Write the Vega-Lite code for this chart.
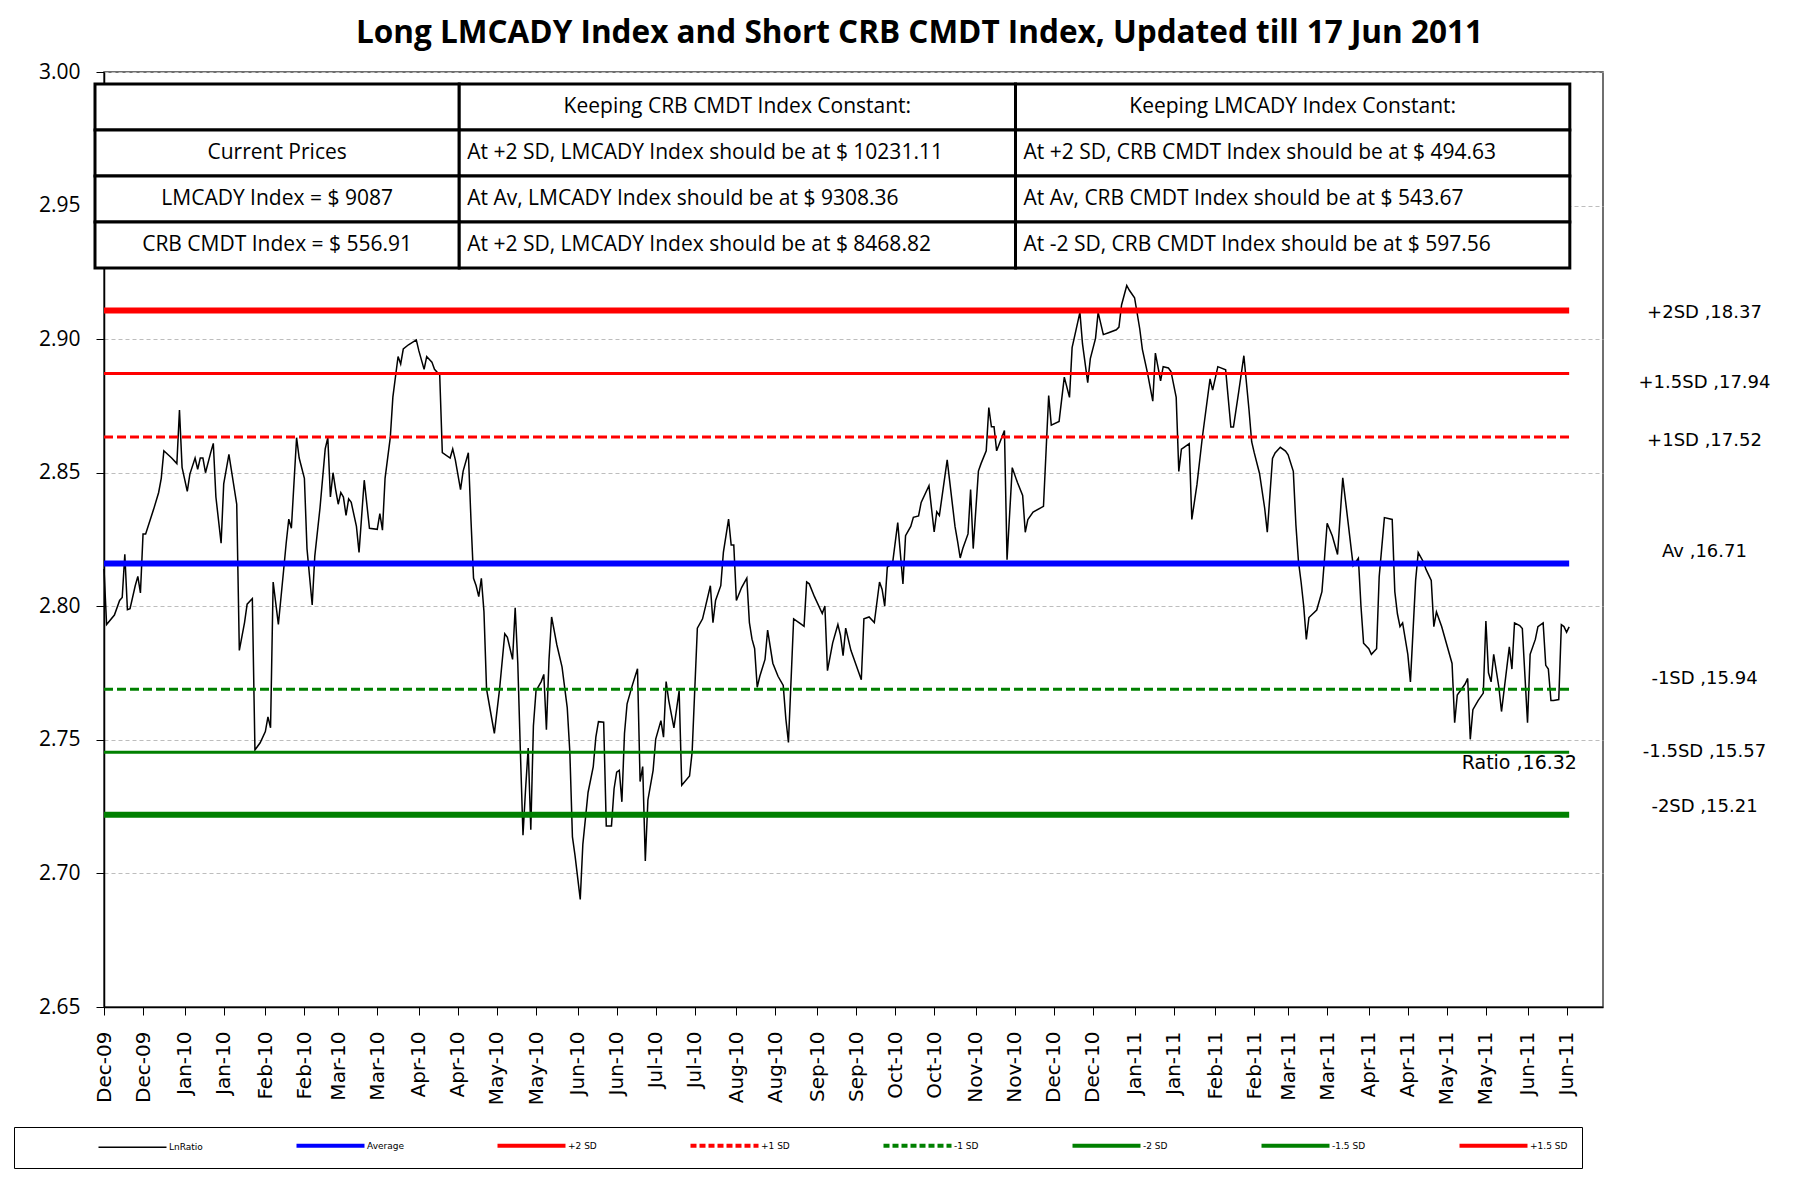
{
  "$schema": "https://vega.github.io/schema/vega-lite/v6.json",
  "width": 1499,
  "height": 935,
  "autosize": {"type": "none"},
  "padding": {"left": 104, "top": 72, "right": 210, "bottom": 170},
  "background": "white",
  "title": {
    "text": "Long LMCADY Index and Short CRB CMDT Index, Updated till 17 Jun 2011",
    "font": "Open Sans", "fontSize": 31.5, "fontWeight": "bold", "color": "#000",
    "frame": "group", "anchor": "middle", "dx": 66, "offset": 12
  },
  "config": {
    "view": {"stroke": "#404040", "strokeWidth": 1.5},
    "axis": {"domainColor": "#000", "tickColor": "#000", "labelColor": "#000"}
  },
  "datasets": {
    "ratio": [
      {"date":"2009-12-01","value":2.8140},{"date":"2009-12-02","value":2.7932},{"date":"2009-12-05","value":2.7967},{"date":"2009-12-07","value":2.8022},{"date":"2009-12-08","value":2.8033},{"date":"2009-12-09","value":2.8195},{"date":"2009-12-10","value":2.7987},{"date":"2009-12-11","value":2.7991},{"date":"2009-12-13","value":2.8077},{"date":"2009-12-14","value":2.8112},{"date":"2009-12-15","value":2.8050},{"date":"2009-12-16","value":2.8271},{"date":"2009-12-17","value":2.8271},{"date":"2009-12-20","value":2.8361},{"date":"2009-12-22","value":2.8426},{"date":"2009-12-23","value":2.8479},{"date":"2009-12-24","value":2.8582},{"date":"2009-12-27","value":2.8555},{"date":"2009-12-29","value":2.8534},{"date":"2009-12-30","value":2.8735},{"date":"2009-12-31","value":2.8520},
      {"date":"2010-01-02","value":2.8430},{"date":"2010-01-03","value":2.8495},{"date":"2010-01-05","value":2.8555},{"date":"2010-01-06","value":2.8513},{"date":"2010-01-07","value":2.8555},{"date":"2010-01-08","value":2.8555},{"date":"2010-01-09","value":2.8500},{"date":"2010-01-11","value":2.8575},{"date":"2010-01-12","value":2.8610},{"date":"2010-01-13","value":2.8409},{"date":"2010-01-15","value":2.8236},{"date":"2010-01-16","value":2.8458},{"date":"2010-01-18","value":2.8569},{"date":"2010-01-21","value":2.8382},{"date":"2010-01-22","value":2.7835},{"date":"2010-01-24","value":2.7939},{"date":"2010-01-25","value":2.8008},{"date":"2010-01-27","value":2.8029},{"date":"2010-01-28","value":2.7462},{"date":"2010-01-30","value":2.7489},
      {"date":"2010-02-01","value":2.7531},{"date":"2010-02-02","value":2.7586},{"date":"2010-02-03","value":2.7545},{"date":"2010-02-04","value":2.8091},{"date":"2010-02-06","value":2.7932},{"date":"2010-02-08","value":2.8133},{"date":"2010-02-09","value":2.8236},{"date":"2010-02-10","value":2.8326},{"date":"2010-02-11","value":2.8292},{"date":"2010-02-13","value":2.8631},{"date":"2010-02-14","value":2.8555},{"date":"2010-02-16","value":2.8479},{"date":"2010-02-17","value":2.8216},{"date":"2010-02-19","value":2.8005},{"date":"2010-02-20","value":2.8188},{"date":"2010-02-22","value":2.8368},{"date":"2010-02-24","value":2.8589},{"date":"2010-02-25","value":2.8631},{"date":"2010-02-26","value":2.8409},{"date":"2010-02-27","value":2.8500},{"date":"2010-02-28","value":2.8437},
      {"date":"2010-03-01","value":2.8382},{"date":"2010-03-02","value":2.8426},{"date":"2010-03-03","value":2.8409},{"date":"2010-03-04","value":2.8340},{"date":"2010-03-05","value":2.8402},{"date":"2010-03-06","value":2.8389},{"date":"2010-03-08","value":2.8299},{"date":"2010-03-09","value":2.8202},{"date":"2010-03-11","value":2.8472},{"date":"2010-03-13","value":2.8292},{"date":"2010-03-16","value":2.8288},{"date":"2010-03-17","value":2.8347},{"date":"2010-03-18","value":2.8285},{"date":"2010-03-19","value":2.8479},{"date":"2010-03-21","value":2.8631},{"date":"2010-03-22","value":2.8783},{"date":"2010-03-24","value":2.8935},{"date":"2010-03-25","value":2.8907},{"date":"2010-03-26","value":2.8963},{"date":"2010-03-28","value":2.8979},{"date":"2010-03-31","value":2.8997},
      {"date":"2010-04-01","value":2.8956},{"date":"2010-04-03","value":2.8887},{"date":"2010-04-04","value":2.8935},{"date":"2010-04-06","value":2.8914},{"date":"2010-04-07","value":2.8887},{"date":"2010-04-09","value":2.8866},{"date":"2010-04-10","value":2.8575},{"date":"2010-04-13","value":2.8555},{"date":"2010-04-14","value":2.8589},{"date":"2010-04-15","value":2.8548},{"date":"2010-04-17","value":2.8437},{"date":"2010-04-18","value":2.8506},{"date":"2010-04-20","value":2.8575},{"date":"2010-04-21","value":2.8326},{"date":"2010-04-22","value":2.8105},{"date":"2010-04-23","value":2.8077},{"date":"2010-04-24","value":2.8036},{"date":"2010-04-25","value":2.8105},{"date":"2010-04-26","value":2.7980},{"date":"2010-04-27","value":2.7690},{"date":"2010-04-29","value":2.7579},{"date":"2010-04-30","value":2.7524},
      {"date":"2010-05-02","value":2.7690},{"date":"2010-05-04","value":2.7897},{"date":"2010-05-05","value":2.7884},{"date":"2010-05-07","value":2.7801},{"date":"2010-05-08","value":2.7994},{"date":"2010-05-09","value":2.7787},{"date":"2010-05-10","value":2.7455},{"date":"2010-05-11","value":2.7143},{"date":"2010-05-12","value":2.7317},{"date":"2010-05-13","value":2.7469},{"date":"2010-05-14","value":2.7164},{"date":"2010-05-15","value":2.7552},{"date":"2010-05-16","value":2.7683},{"date":"2010-05-18","value":2.7718},{"date":"2010-05-19","value":2.7745},{"date":"2010-05-20","value":2.7538},{"date":"2010-05-21","value":2.7801},{"date":"2010-05-22","value":2.7960},{"date":"2010-05-24","value":2.7856},{"date":"2010-05-26","value":2.7773},{"date":"2010-05-28","value":2.7621},{"date":"2010-05-29","value":2.7455},{"date":"2010-05-30","value":2.7137},{"date":"2010-05-31","value":2.7067},
      {"date":"2010-06-02","value":2.6903},{"date":"2010-06-03","value":2.7109},{"date":"2010-06-05","value":2.7303},{"date":"2010-06-07","value":2.7400},{"date":"2010-06-08","value":2.7510},{"date":"2010-06-09","value":2.7568},{"date":"2010-06-11","value":2.7566},{"date":"2010-06-12","value":2.7178},{"date":"2010-06-14","value":2.7178},{"date":"2010-06-15","value":2.7317},{"date":"2010-06-16","value":2.7379},{"date":"2010-06-17","value":2.7386},{"date":"2010-06-18","value":2.7268},{"date":"2010-06-19","value":2.7524},{"date":"2010-06-20","value":2.7635},{"date":"2010-06-22","value":2.7704},{"date":"2010-06-24","value":2.7766},{"date":"2010-06-25","value":2.7344},{"date":"2010-06-26","value":2.7400},{"date":"2010-06-27","value":2.7047},{"date":"2010-06-28","value":2.7275},{"date":"2010-06-30","value":2.7386},
      {"date":"2010-07-01","value":2.7503},{"date":"2010-07-03","value":2.7572},{"date":"2010-07-04","value":2.7510},{"date":"2010-07-05","value":2.7718},{"date":"2010-07-06","value":2.7648},{"date":"2010-07-08","value":2.7545},{"date":"2010-07-10","value":2.7683},{"date":"2010-07-11","value":2.7330},{"date":"2010-07-14","value":2.7365},{"date":"2010-07-15","value":2.7455},{"date":"2010-07-17","value":2.7918},{"date":"2010-07-19","value":2.7953},{"date":"2010-07-20","value":2.7994},{"date":"2010-07-22","value":2.8077},{"date":"2010-07-23","value":2.7939},{"date":"2010-07-24","value":2.8022},{"date":"2010-07-26","value":2.8077},{"date":"2010-07-27","value":2.8202},{"date":"2010-07-29","value":2.8326},{"date":"2010-07-30","value":2.8229},{"date":"2010-07-31","value":2.8229},
      {"date":"2010-08-01","value":2.8022},{"date":"2010-08-03","value":2.8070},{"date":"2010-08-05","value":2.8105},{"date":"2010-08-06","value":2.7939},{"date":"2010-08-07","value":2.7877},{"date":"2010-08-08","value":2.7842},{"date":"2010-08-09","value":2.7697},{"date":"2010-08-10","value":2.7738},{"date":"2010-08-12","value":2.7801},{"date":"2010-08-13","value":2.7911},{"date":"2010-08-15","value":2.7787},{"date":"2010-08-17","value":2.7738},{"date":"2010-08-19","value":2.7704},{"date":"2010-08-20","value":2.7579},{"date":"2010-08-21","value":2.7490},{"date":"2010-08-23","value":2.7953},{"date":"2010-08-26","value":2.7932},{"date":"2010-08-27","value":2.7925},{"date":"2010-08-28","value":2.8091},{"date":"2010-08-29","value":2.8084},{"date":"2010-08-31","value":2.8036},
      {"date":"2010-09-03","value":2.7973},{"date":"2010-09-04","value":2.8001},{"date":"2010-09-05","value":2.7759},{"date":"2010-09-07","value":2.7863},{"date":"2010-09-09","value":2.7932},{"date":"2010-09-10","value":2.7891},{"date":"2010-09-11","value":2.7815},{"date":"2010-09-12","value":2.7918},{"date":"2010-09-14","value":2.7835},{"date":"2010-09-16","value":2.7780},{"date":"2010-09-18","value":2.7725},{"date":"2010-09-19","value":2.7953},{"date":"2010-09-21","value":2.7960},{"date":"2010-09-23","value":2.7939},{"date":"2010-09-25","value":2.8091},{"date":"2010-09-26","value":2.8063},{"date":"2010-09-27","value":2.8001},{"date":"2010-09-28","value":2.8147},{"date":"2010-09-30","value":2.8160},
      {"date":"2010-10-02","value":2.8313},{"date":"2010-10-04","value":2.8084},{"date":"2010-10-05","value":2.8264},{"date":"2010-10-07","value":2.8299},{"date":"2010-10-08","value":2.8333},{"date":"2010-10-10","value":2.8338},{"date":"2010-10-11","value":2.8389},{"date":"2010-10-14","value":2.8451},{"date":"2010-10-16","value":2.8278},{"date":"2010-10-17","value":2.8354},{"date":"2010-10-18","value":2.8340},{"date":"2010-10-21","value":2.8548},{"date":"2010-10-24","value":2.8299},{"date":"2010-10-25","value":2.8243},{"date":"2010-10-26","value":2.8181},{"date":"2010-10-27","value":2.8216},{"date":"2010-10-29","value":2.8271},{"date":"2010-10-30","value":2.8437},{"date":"2010-10-31","value":2.8216},
      {"date":"2010-11-02","value":2.8506},{"date":"2010-11-03","value":2.8534},{"date":"2010-11-05","value":2.8582},{"date":"2010-11-06","value":2.8744},{"date":"2010-11-07","value":2.8672},{"date":"2010-11-08","value":2.8672},{"date":"2010-11-09","value":2.8582},{"date":"2010-11-12","value":2.8658},{"date":"2010-11-13","value":2.8174},{"date":"2010-11-15","value":2.8519},{"date":"2010-11-17","value":2.8463},{"date":"2010-11-19","value":2.8415},{"date":"2010-11-20","value":2.8277},{"date":"2010-11-21","value":2.8325},{"date":"2010-11-23","value":2.8353},{"date":"2010-11-27","value":2.8374},{"date":"2010-11-29","value":2.8789},{"date":"2010-11-30","value":2.8678},
      {"date":"2010-12-03","value":2.8692},{"date":"2010-12-05","value":2.8858},{"date":"2010-12-07","value":2.8782},{"date":"2010-12-08","value":2.8968},{"date":"2010-12-11","value":2.9100},{"date":"2010-12-12","value":2.8982},{"date":"2010-12-14","value":2.8837},{"date":"2010-12-15","value":2.8927},{"date":"2010-12-17","value":2.9003},{"date":"2010-12-18","value":2.9100},{"date":"2010-12-20","value":2.9017},{"date":"2010-12-22","value":2.9024},{"date":"2010-12-25","value":2.9035},{"date":"2010-12-26","value":2.9045},{"date":"2010-12-27","value":2.9128},{"date":"2010-12-29","value":2.9201},{"date":"2010-12-30","value":2.9183},
      {"date":"2011-01-01","value":2.9155},{"date":"2011-01-03","value":2.9038},{"date":"2011-01-04","value":2.8962},{"date":"2011-01-06","value":2.8872},{"date":"2011-01-08","value":2.8768},{"date":"2011-01-09","value":2.8948},{"date":"2011-01-11","value":2.8844},{"date":"2011-01-12","value":2.8897},{"date":"2011-01-14","value":2.8892},{"date":"2011-01-15","value":2.8879},{"date":"2011-01-17","value":2.8782},{"date":"2011-01-18","value":2.8505},{"date":"2011-01-19","value":2.8588},{"date":"2011-01-20","value":2.8595},{"date":"2011-01-22","value":2.8609},{"date":"2011-01-23","value":2.8325},{"date":"2011-01-25","value":2.8457},{"date":"2011-01-27","value":2.8629},{"date":"2011-01-30","value":2.8851},{"date":"2011-01-31","value":2.8809},
      {"date":"2011-02-02","value":2.8897},{"date":"2011-02-05","value":2.8885},{"date":"2011-02-07","value":2.8671},{"date":"2011-02-08","value":2.8671},{"date":"2011-02-10","value":2.8802},{"date":"2011-02-12","value":2.8938},{"date":"2011-02-14","value":2.8733},{"date":"2011-02-15","value":2.8616},{"date":"2011-02-16","value":2.8574},{"date":"2011-02-18","value":2.8498},{"date":"2011-02-20","value":2.8367},{"date":"2011-02-21","value":2.8277},{"date":"2011-02-23","value":2.8553},{"date":"2011-02-24","value":2.8574},{"date":"2011-02-26","value":2.8595},{"date":"2011-02-28","value":2.8581},
      {"date":"2011-03-01","value":2.8567},{"date":"2011-03-03","value":2.8505},{"date":"2011-03-04","value":2.8304},{"date":"2011-03-05","value":2.8166},{"date":"2011-03-06","value":2.8090},{"date":"2011-03-07","value":2.8000},{"date":"2011-03-08","value":2.7876},{"date":"2011-03-09","value":2.7958},{"date":"2011-03-12","value":2.7986},{"date":"2011-03-14","value":2.8055},{"date":"2011-03-15","value":2.8180},{"date":"2011-03-16","value":2.8311},{"date":"2011-03-18","value":2.8263},{"date":"2011-03-20","value":2.8194},{"date":"2011-03-22","value":2.8481},{"date":"2011-03-24","value":2.8318},{"date":"2011-03-26","value":2.8152},{"date":"2011-03-28","value":2.8180},{"date":"2011-03-29","value":2.8000},{"date":"2011-03-30","value":2.7862},
      {"date":"2011-04-01","value":2.7841},{"date":"2011-04-02","value":2.7820},{"date":"2011-04-04","value":2.7841},{"date":"2011-04-05","value":2.8111},{"date":"2011-04-07","value":2.8332},{"date":"2011-04-10","value":2.8325},{"date":"2011-04-11","value":2.8055},{"date":"2011-04-12","value":2.7972},{"date":"2011-04-13","value":2.7924},{"date":"2011-04-14","value":2.7938},{"date":"2011-04-16","value":2.7820},{"date":"2011-04-17","value":2.7717},{"date":"2011-04-19","value":2.8097},{"date":"2011-04-20","value":2.8201},{"date":"2011-04-22","value":2.8166},{"date":"2011-04-23","value":2.8138},{"date":"2011-04-25","value":2.8097},{"date":"2011-04-26","value":2.7924},{"date":"2011-04-27","value":2.7979},{"date":"2011-04-29","value":2.7924},
      {"date":"2011-05-01","value":2.7855},{"date":"2011-05-03","value":2.7786},{"date":"2011-05-04","value":2.7564},{"date":"2011-05-05","value":2.7668},{"date":"2011-05-08","value":2.7709},{"date":"2011-05-09","value":2.7730},{"date":"2011-05-10","value":2.7502},{"date":"2011-05-11","value":2.7613},{"date":"2011-05-13","value":2.7647},{"date":"2011-05-15","value":2.7675},{"date":"2011-05-16","value":2.7945},{"date":"2011-05-17","value":2.7751},{"date":"2011-05-18","value":2.7717},{"date":"2011-05-19","value":2.7820},{"date":"2011-05-21","value":2.7696},{"date":"2011-05-22","value":2.7606},{"date":"2011-05-25","value":2.7848},{"date":"2011-05-26","value":2.7765},{"date":"2011-05-27","value":2.7938},{"date":"2011-05-29","value":2.7928},{"date":"2011-05-30","value":2.7917},
      {"date":"2011-06-01","value":2.7564},{"date":"2011-06-02","value":2.7820},{"date":"2011-06-04","value":2.7876},{"date":"2011-06-05","value":2.7924},{"date":"2011-06-07","value":2.7938},{"date":"2011-06-08","value":2.7779},{"date":"2011-06-09","value":2.7765},{"date":"2011-06-10","value":2.7647},{"date":"2011-06-11","value":2.7647},{"date":"2011-06-13","value":2.7651},{"date":"2011-06-14","value":2.7931},{"date":"2011-06-15","value":2.7924},{"date":"2011-06-16","value":2.7903},{"date":"2011-06-17","value":2.7923}
    ],
    "bands": [
      {"series":"Average","value":2.8160,"start":"2009-12-01","end":"2011-06-17"},
      {"series":"+2 SD","value":2.9107,"start":"2009-12-01","end":"2011-06-17"},
      {"series":"+1 SD","value":2.8634,"start":"2009-12-01","end":"2011-06-17"},
      {"series":"-1 SD","value":2.7689,"start":"2009-12-01","end":"2011-06-17"},
      {"series":"-2 SD","value":2.7220,"start":"2009-12-01","end":"2011-06-17"},
      {"series":"-1.5 SD","value":2.7454,"start":"2009-12-01","end":"2011-06-17"},
      {"series":"+1.5 SD","value":2.8871,"start":"2009-12-01","end":"2011-06-17"}
    ],
    "table": [
      {"row":0,"col":0,"text":"","from":"2009-11-27T13:00:00Z","to":"2010-04-16T12:00:00Z","top":2.99551,"bottom":2.97830},
      {"row":0,"col":1,"text":"Keeping CRB CMDT Index Constant:","from":"2010-04-16T12:00:00Z","to":"2010-11-16T06:00:00Z","top":2.99551,"bottom":2.97830},
      {"row":0,"col":2,"text":"Keeping LMCADY Index Constant:","from":"2010-11-16T06:00:00Z","to":"2011-06-17T06:00:00Z","top":2.99551,"bottom":2.97830},
      {"row":1,"col":0,"text":"Current Prices","from":"2009-11-27T13:00:00Z","to":"2010-04-16T12:00:00Z","top":2.97830,"bottom":2.96108},
      {"row":1,"col":1,"text":"At +2 SD, LMCADY Index should be at $ 10231.11","from":"2010-04-16T12:00:00Z","to":"2010-11-16T06:00:00Z","top":2.97830,"bottom":2.96108},
      {"row":1,"col":2,"text":"At +2 SD, CRB CMDT Index should be at $ 494.63","from":"2010-11-16T06:00:00Z","to":"2011-06-17T06:00:00Z","top":2.97830,"bottom":2.96108},
      {"row":2,"col":0,"text":"LMCADY Index =  $ 9087","from":"2009-11-27T13:00:00Z","to":"2010-04-16T12:00:00Z","top":2.96108,"bottom":2.94386},
      {"row":2,"col":1,"text":"At Av, LMCADY Index should be at $ 9308.36","from":"2010-04-16T12:00:00Z","to":"2010-11-16T06:00:00Z","top":2.96108,"bottom":2.94386},
      {"row":2,"col":2,"text":"At Av, CRB CMDT Index should be at $ 543.67","from":"2010-11-16T06:00:00Z","to":"2011-06-17T06:00:00Z","top":2.96108,"bottom":2.94386},
      {"row":3,"col":0,"text":"CRB CMDT Index =  $ 556.91","from":"2009-11-27T13:00:00Z","to":"2010-04-16T12:00:00Z","top":2.94386,"bottom":2.92665},
      {"row":3,"col":1,"text":"At +2 SD, LMCADY Index should be at $ 8468.82","from":"2010-04-16T12:00:00Z","to":"2010-11-16T06:00:00Z","top":2.94386,"bottom":2.92665},
      {"row":3,"col":2,"text":"At -2 SD, CRB CMDT Index should be at $ 597.56","from":"2010-11-16T06:00:00Z","to":"2011-06-17T06:00:00Z","top":2.94386,"bottom":2.92665}
    ]
  },
  "layer": [
    {
      "data": {"name": "ratio"},
      "mark": {"type": "line", "strokeWidth": 1.5},
      "encoding": {
        "x": {
          "field": "date", "type": "temporal",
          "scale": {"type": "utc", "nice": false, "domain": [{"year": 2009, "month": 12, "date": 1, "utc": true}, {"year": 2011, "month": 6, "date": 30, "utc": true}]},
          "axis": {
            "orient": "bottom",
            "values": {"signal": "[utc(2009,11,1), utc(2009,11,16), utc(2010,0,1), utc(2010,0,16), utc(2010,1,1), utc(2010,1,16), utc(2010,2,1), utc(2010,2,16), utc(2010,3,1), utc(2010,3,16), utc(2010,4,1), utc(2010,4,16), utc(2010,5,1), utc(2010,5,16), utc(2010,6,1), utc(2010,6,16), utc(2010,7,1), utc(2010,7,16), utc(2010,8,1), utc(2010,8,16), utc(2010,9,1), utc(2010,9,16), utc(2010,10,1), utc(2010,10,16), utc(2010,11,1), utc(2010,11,16), utc(2011,0,1), utc(2011,0,16), utc(2011,1,1), utc(2011,1,16), utc(2011,2,1), utc(2011,2,16), utc(2011,3,1), utc(2011,3,16), utc(2011,4,1), utc(2011,4,16), utc(2011,5,1), utc(2011,5,16)]"},
            "format": "%b-%y", "labelAngle": 270, "labelFont": "DejaVu Sans", "labelFontSize": 20,
            "labelPadding": 16, "tickSize": 8, "domainWidth": 1.5, "grid": false, "title": null,
            "labelOverlap": false, "labelFlush": false
          }
        },
        "y": {
          "field": "value", "type": "quantitative",
          "scale": {"domain": [2.65, 3.0], "nice": false, "zero": false},
          "axis": {
            "orient": "left", "values": [2.65, 2.7, 2.75, 2.8, 2.85, 2.9, 2.95, 3.0], "format": ".2f",
            "labelFont": "Open Sans", "labelFontSize": 21, "labelPadding": 16, "tickSize": 8, "domainWidth": 1.5,
            "grid": true, "gridColor": "#bdbdbd", "gridDash": [4, 3], "gridWidth": 1, "title": null, "labelOverlap": false
          }
        },
        "color": {"datum": "LnRatio", "type": "nominal"}
      }
    },
    {
      "data": {"name": "bands"},
      "mark": {"type": "rule", "strokeCap": "butt"},
      "encoding": {
        "x": {"field": "start", "type": "temporal"},
        "x2": {"field": "end"},
        "y": {
          "field": "value", "type": "quantitative",
          "axis": {
            "orient": "right", "values": [2.9101, 2.8837, 2.8621, 2.8205, 2.7729, 2.7457, 2.7249],
            "labelExpr": "datum.value > 2.9 ? '+2SD ,18.37' : datum.value > 2.87 ? '+1.5SD ,17.94' : datum.value > 2.85 ? '+1SD ,17.52' : datum.value > 2.8 ? 'Av ,16.71' : datum.value > 2.76 ? '-1SD ,15.94' : datum.value > 2.735 ? '-1.5SD ,15.57' : '-2SD ,15.21'",
            "domain": false, "ticks": false, "tickSize": 0, "grid": false, "labelAlign": "center",
            "labelPadding": 101, "labelFont": "DejaVu Sans", "labelFontSize": 18, "title": null, "labelOverlap": false
          }
        },
        "color": {
          "field": "series", "type": "nominal",
          "scale": {
            "domain": ["LnRatio", "Average", "+2 SD", "+1 SD", "-1 SD", "-2 SD", "-1.5 SD", "+1.5 SD"],
            "range": ["#000000", "#0000ff", "#ff0000", "#ff0000", "#008000", "#008000", "#008000", "#ff0000"]
          },
          "legend": {
            "orient": "none", "legendX": -90, "legendY": 1055,
            "direction": "horizontal", "columns": 8,
            "title": " ", "titleOrient": "left", "titlePadding": 73, "titleFontSize": 9,
            "symbolType": "M -1.4 0 L 12.2 0", "symbolSize": 100,
            "symbolStrokeWidth": {"expr": "datum.value == 'LnRatio' ? 1.5 : 4"},
            "symbolDash": {"expr": "(datum.value == '+1 SD' || datum.value == '-1 SD') ? [6, 3] : [1, 0]"},
            "labelFont": "DejaVu Sans", "labelFontSize": 9, "labelColor": "#000", "labelOffset": 59,
            "columnPadding": 85, "padding": 14, "strokeColor": "#000"
          }
        },
        "strokeWidth": {
          "condition": {"test": "datum.series === 'Average' || datum.series === '+2 SD' || datum.series === '-2 SD'", "value": 6},
          "value": 3
        },
        "strokeDash": {
          "condition": {"test": "datum.series === '+1 SD' || datum.series === '-1 SD'", "value": [9, 4]},
          "value": [1, 0]
        }
      }
    },
    {
      "data": {"values": [{}]},
      "mark": {"type": "text", "text": "Ratio ,16.32", "font": "DejaVu Sans", "fontSize": 19, "align": "right", "baseline": "middle", "color": "#000"},
      "encoding": {
        "x": {"datum": {"year": 2011, "month": 6, "date": 20, "utc": true}, "type": "temporal"},
        "y": {"datum": 2.7414, "type": "quantitative", "axis": null}
      }
    },
    {
      "data": {"name": "table"},
      "mark": {"type": "rect", "fill": "white", "stroke": "black", "strokeWidth": 3},
      "encoding": {
        "x": {"field": "from", "type": "temporal"},
        "x2": {"field": "to"},
        "y": {"field": "top", "type": "quantitative", "axis": null},
        "y2": {"field": "bottom"}
      }
    },
    {
      "data": {"name": "table"},
      "transform": [
        {"filter": "datum.row == 0 || datum.col == 0"},
        {"calculate": "(time(datum.from) + time(datum.to)) / 2", "as": "cell_mid"},
        {"calculate": "(datum.top + datum.bottom) / 2", "as": "row_mid"}
      ],
      "mark": {"type": "text", "align": "center", "baseline": "middle", "font": "Open Sans", "fontSize": 21, "color": "#000"},
      "encoding": {
        "x": {"field": "cell_mid", "type": "temporal"},
        "y": {"field": "row_mid", "type": "quantitative", "axis": null},
        "text": {"field": "text"}
      }
    },
    {
      "data": {"name": "table"},
      "transform": [
        {"filter": "datum.row > 0 && datum.col > 0"},
        {"calculate": "(datum.top + datum.bottom) / 2", "as": "row_mid"}
      ],
      "mark": {"type": "text", "align": "left", "baseline": "middle", "dx": 8, "font": "Open Sans", "fontSize": 21, "color": "#000"},
      "encoding": {
        "x": {"field": "from", "type": "temporal"},
        "y": {"field": "row_mid", "type": "quantitative", "axis": null},
        "text": {"field": "text"}
      }
    }
  ],
  "resolve": {"axis": {"y": "independent"}}
}
